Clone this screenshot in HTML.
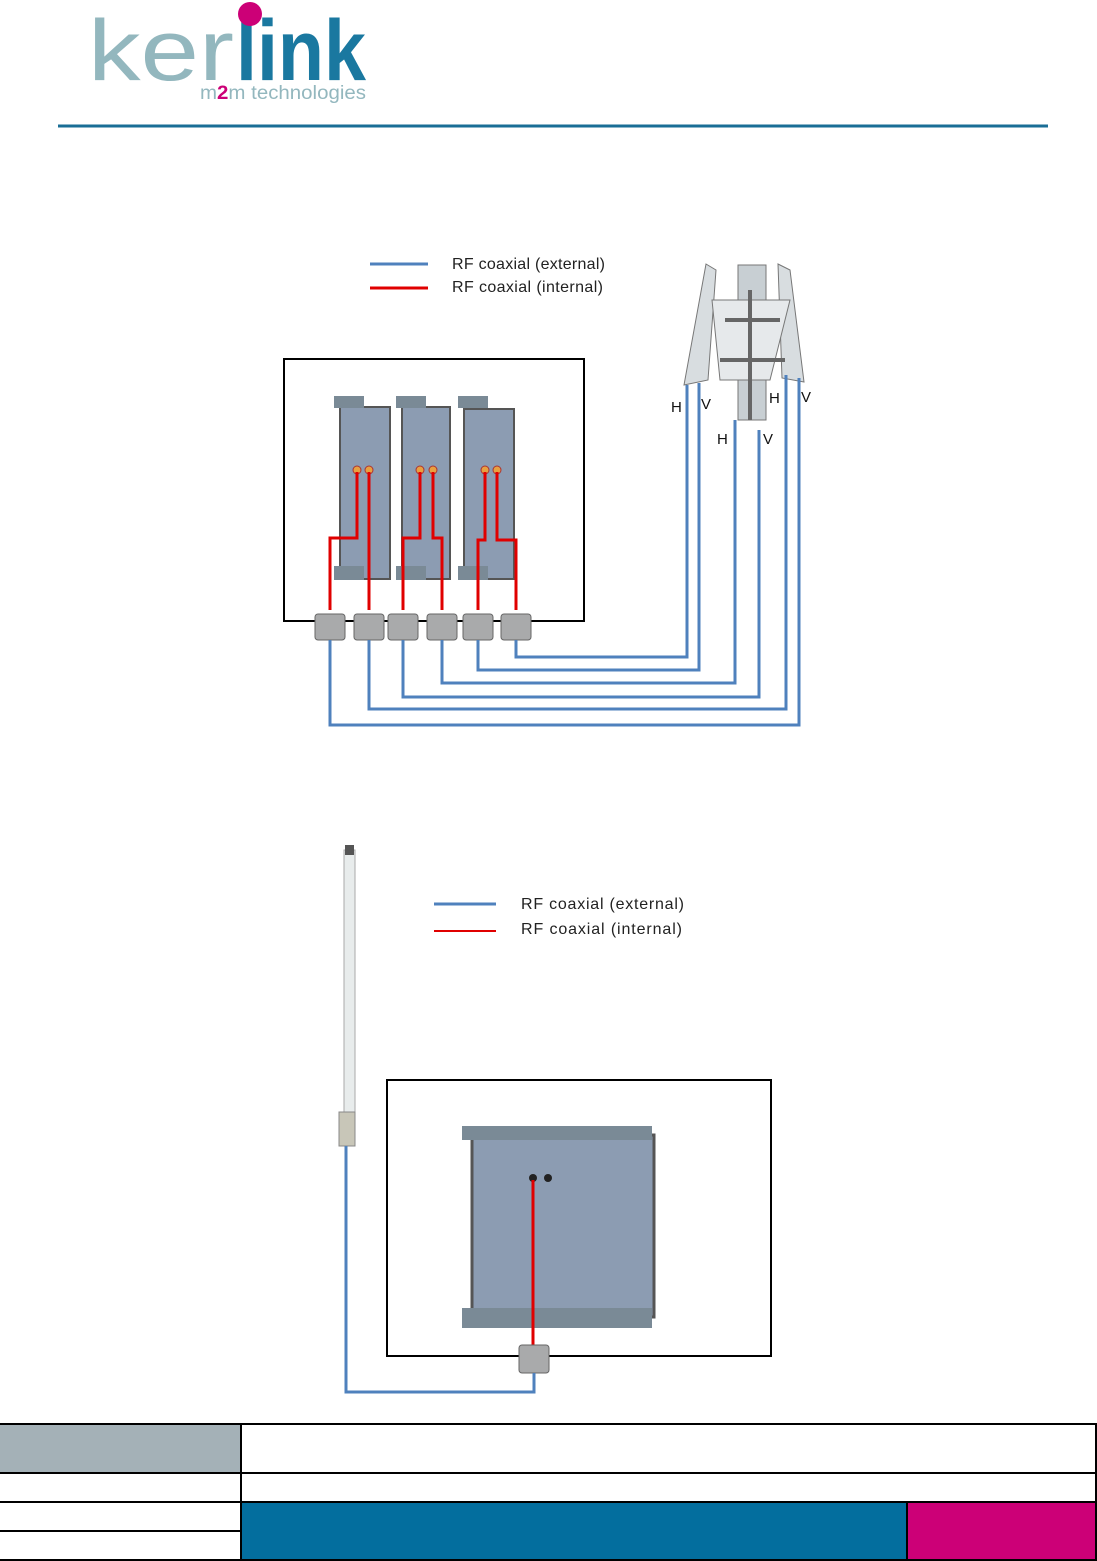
<!DOCTYPE html>
<html><head><meta charset="utf-8"><style>
html,body{margin:0;padding:0;background:#fff}
svg{display:block}
text{font-family:"Liberation Sans",sans-serif}
</style></head><body>
<svg width="1097" height="1561" viewBox="0 0 1097 1561" xmlns="http://www.w3.org/2000/svg">
<!-- logo -->
<text x="88" y="80" font-size="86" fill="#93b7be" textLength="146" lengthAdjust="spacingAndGlyphs">ker</text>
<text x="236" y="80" font-size="86" font-weight="bold" fill="#1a78a0" textLength="130" lengthAdjust="spacingAndGlyphs">link</text>
<circle cx="250" cy="14" r="12" fill="#cc0077"/>
<text x="200" y="99" font-size="19" fill="#93b7be" textLength="166" lengthAdjust="spacingAndGlyphs">m<tspan fill="#cc0077" font-weight="bold">2</tspan>m technologies</text>
<line x1="58" y1="126" x2="1048" y2="126" stroke="#1a6e96" stroke-width="3"/>

<!-- legend 1 -->
<line x1="370" y1="264" x2="428" y2="264" stroke="#4f81bd" stroke-width="3"/>
<line x1="370" y1="288" x2="428" y2="288" stroke="#e00000" stroke-width="3"/>
<text x="452" y="269" font-size="16" fill="#222" textLength="153">RF coaxial (external)</text>
<text x="452" y="292" font-size="16" fill="#222" textLength="151">RF coaxial (internal)</text>

<!-- antenna panel -->
<g fill="#d8dde0" stroke="#777" stroke-width="1">
<polygon points="706,264 716,270 708,380 684,385"/>
<polygon points="778,264 790,270 804,382 782,378"/>
<rect x="738" y="265" width="28" height="155" fill="#c8cfd3"/>
<polygon points="712,300 790,300 770,380 720,380" fill="#e6e9eb"/>
</g>
<g stroke="#666" stroke-width="4" fill="none">
<line x1="725" y1="320" x2="780" y2="320"/>
<line x1="720" y1="360" x2="785" y2="360"/>
<line x1="750" y1="290" x2="750" y2="420"/>
</g>

<!-- box 1 -->
<rect x="284" y="359" width="300" height="262" fill="none" stroke="#000" stroke-width="2"/>
<g fill="#8c9cb2" stroke="#555" stroke-width="2">
<rect x="340" y="407" width="50" height="172"/>
<rect x="402" y="407" width="48" height="172"/>
<rect x="464" y="409" width="50" height="170"/>
</g>
<g fill="#7a8a96">
<rect x="334" y="396" width="30" height="12"/><rect x="396" y="396" width="30" height="12"/><rect x="458" y="396" width="30" height="12"/>
<rect x="334" y="566" width="30" height="14"/><rect x="396" y="566" width="30" height="14"/><rect x="458" y="566" width="30" height="14"/>
</g>
<g fill="#e8a040" stroke="#a33" stroke-width="1">
<circle cx="357" cy="470" r="4"/><circle cx="369" cy="470" r="4"/>
<circle cx="420" cy="470" r="4"/><circle cx="433" cy="470" r="4"/>
<circle cx="485" cy="470" r="4"/><circle cx="497" cy="470" r="4"/>
</g>
<g stroke="#e00000" stroke-width="3" fill="none">
<polyline points="357,472 357,538 330,538 330,610"/>
<polyline points="369,472 369,610"/>
<polyline points="420,472 420,538 403,538 403,610"/>
<polyline points="433,472 433,538 442,538 442,610"/>
<polyline points="485,472 485,540 478,540 478,610"/>
<polyline points="497,472 497,540 516,540 516,610"/>
</g>
<g fill="#a9aaab" stroke="#666" stroke-width="1">
<rect x="315" y="614" width="30" height="26" rx="3"/>
<rect x="354" y="614" width="30" height="26" rx="3"/>
<rect x="388" y="614" width="30" height="26" rx="3"/>
<rect x="427" y="614" width="30" height="26" rx="3"/>
<rect x="463" y="614" width="30" height="26" rx="3"/>
<rect x="501" y="614" width="30" height="26" rx="3"/>
</g>
<g stroke="#4f81bd" stroke-width="3" fill="none">
<polyline points="516,640 516,657 687,657 687,385"/>
<polyline points="478,640 478,670 699,670 699,383"/>
<polyline points="442,640 442,683 735,683 735,420"/>
<polyline points="403,640 403,697 759,697 759,430"/>
<polyline points="369,640 369,709 786,709 786,375"/>
<polyline points="330,640 330,725 799,725 799,378"/>
</g>
<g font-size="15" fill="#111">
<text x="671" y="412">H</text><text x="701" y="409">V</text>
<text x="769" y="403">H</text><text x="801" y="402">V</text>
<text x="717" y="444">H</text><text x="763" y="444">V</text>
</g>

<!-- legend 2 -->
<line x1="434" y1="904" x2="496" y2="904" stroke="#4f81bd" stroke-width="3"/>
<line x1="434" y1="931" x2="496" y2="931" stroke="#e00000" stroke-width="2"/>
<text x="521" y="909" font-size="16" fill="#222" textLength="163">RF coaxial (external)</text>
<text x="521" y="934" font-size="16" fill="#222" textLength="161">RF coaxial (internal)</text>

<!-- omni antenna -->
<rect x="344" y="850" width="11" height="270" fill="#e8ecec" stroke="#aaa"/>
<rect x="345" y="845" width="9" height="10" fill="#555"/>
<rect x="339" y="1112" width="16" height="34" fill="#c8c6b8" stroke="#888"/>

<!-- box 2 -->
<rect x="387" y="1080" width="384" height="276" fill="none" stroke="#000" stroke-width="2"/>
<rect x="472" y="1135" width="182" height="182" fill="#8c9cb2" stroke="#555" stroke-width="3"/>
<g fill="#7a8a96">
<rect x="462" y="1126" width="190" height="14"/>
<rect x="462" y="1308" width="190" height="20"/>
</g>
<circle cx="533" cy="1178" r="4" fill="#222"/><circle cx="548" cy="1178" r="4" fill="#222"/>
<line x1="533" y1="1180" x2="533" y2="1345" stroke="#e00000" stroke-width="3"/>
<rect x="519" y="1345" width="30" height="28" rx="3" fill="#a9aaab" stroke="#666"/>
<polyline points="346,1146 346,1392 534,1392 534,1373" fill="none" stroke="#4f81bd" stroke-width="3"/>

<!-- footer table -->
<rect x="0" y="1424" width="241" height="49" fill="#a4b1b7"/>
<rect x="241" y="1502" width="666" height="58" fill="#036e9e"/>
<rect x="907" y="1502" width="190" height="58" fill="#cc0077"/>
<g stroke="#000" stroke-width="2" fill="none">
<line x1="0" y1="1424" x2="1097" y2="1424"/>
<line x1="0" y1="1473" x2="1097" y2="1473"/>
<line x1="0" y1="1502" x2="1097" y2="1502"/>
<line x1="0" y1="1531" x2="241" y2="1531"/>
<line x1="0" y1="1560" x2="1097" y2="1560"/>
<line x1="241" y1="1424" x2="241" y2="1561"/>
<line x1="1096" y1="1424" x2="1096" y2="1561"/>
<line x1="907" y1="1502" x2="907" y2="1561"/>
</g>
</svg>
</body></html>
